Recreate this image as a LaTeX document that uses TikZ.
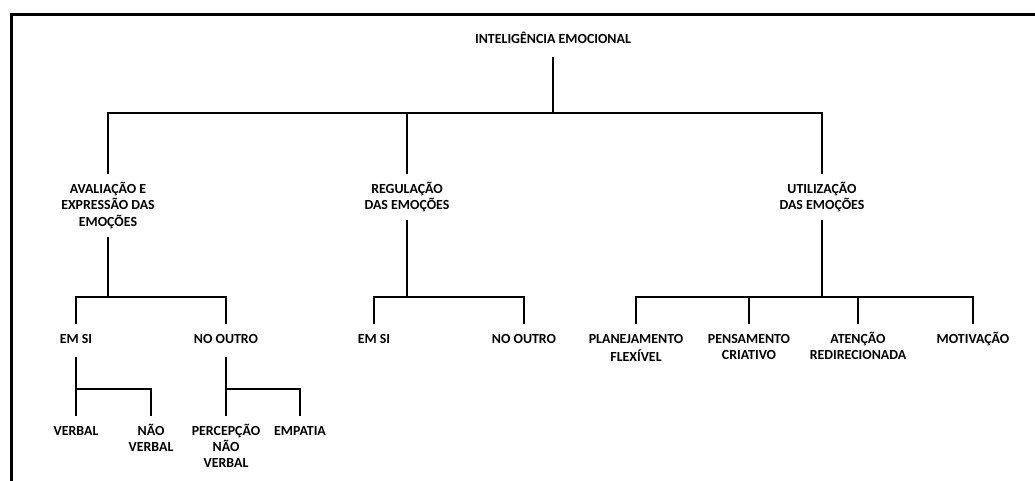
\documentclass[tikz,border=0pt]{standalone}
\usepackage{fontspec}
\setmainfont{Carlito}
\tikzset{lbl/.style={align=center, anchor=north, inner xsep=0pt, inner ysep=8pt,
  font=\fontsize{13.9}{16.3}\selectfont\bfseries}}
\tikzset{br/.style={line width=1.8pt}}

\begin{document}
\begin{tikzpicture}[x=1pt, y=-1pt]
      \useasboundingbox (0,0) rectangle (1035,480);
      \clip (0,0) rectangle (1035,480);
      \draw [line width=3pt] (11.5,14) rectangle (1100,540);

      \node [lbl] (ie) at (553,23.9) {\strut INTELIGÊNCIA EMOCIONAL};

      \node [lbl] (aval) at (108,173.9) {\strut AVALIAÇÃO E\\EXPRESSÃO DAS\\EMOÇÕES};
      \node [lbl] (regul) at (407,173.9) {\strut REGULAÇÃO\\DAS EMOÇÕES};
      \node [lbl] (util) at (822,173.9) {\strut UTILIZAÇÃO\\DAS EMOÇÕES};

      \node [lbl] (emsiA) at (76,323.9) {\strut EM SI};
      \node [lbl] (outroA) at (226,323.9) {\strut NO OUTRO};
      \node [lbl] (emsiR) at (374,323.9) {\strut EM SI};
      \node [lbl] (outroR) at (524,323.9) {\strut NO OUTRO};
      \node [lbl] (plan) at (636,323.9) {\strut PLANEJAMENTO\\FLEXÍVEL};
      \node [lbl] (pens) at (749,323.9) {\strut PENSAMENTO\\CRIATIVO};
      \node [lbl] (aten) at (858,323.9) {\strut ATENÇÃO\\REDIRECIONADA};
      \node [lbl] (motiv) at (973,323.9) {\strut MOTIVAÇÃO};

      \node [lbl] (verbal) at (76,415.6) {\strut VERBAL};
      \node [lbl] (naoverbal) at (151,415.6) {\strut NÃO\\VERBAL};
      \node [lbl] (percep) at (226,415.6) {\strut PERCEPÇÃO\\NÃO\\VERBAL};
      \node [lbl] (empatia) at (300,415.6) {\strut EMPATIA};

      % junctions
      \coordinate (j0) at (553,113);
      \coordinate (jA) at (108,297);
      \coordinate (jR) at (407,297);
      \coordinate (jU) at (822,297);
      \coordinate (jS) at (emsiA.south |- 0,389);
      \coordinate (jO) at (outroA.south |- 0,389);

      \draw [br] (ie.south) -- (j0);
      \draw [br] (aval.north) |- (j0) -| (util.north);
      \draw [br] (regul.north) -- (regul.north |- j0);

      \draw [br] (aval.south) -- (jA);
      \draw [br] (emsiA.north) |- (jA) -| (outroA.north);
      \draw [br] (regul.south) -- (jR);
      \draw [br] (emsiR.north) |- (jR) -| (outroR.north);
      \draw [br] (util.south) -- (jU);
      \draw [br] (plan.north) |- (jU) -| (motiv.north);
      \draw [br] (pens.north) -- (pens.north |- jU);
      \draw [br] (aten.north) -- (aten.north |- jU);

      \draw [br] (emsiA.south) -- (jS);
      \draw [br] (verbal.north) |- (jS) -| (naoverbal.north);
      \draw [br] (outroA.south) -- (jO);
      \draw [br] (percep.north) |- (jO) -| (empatia.north);
    \end{tikzpicture}
\end{document}
